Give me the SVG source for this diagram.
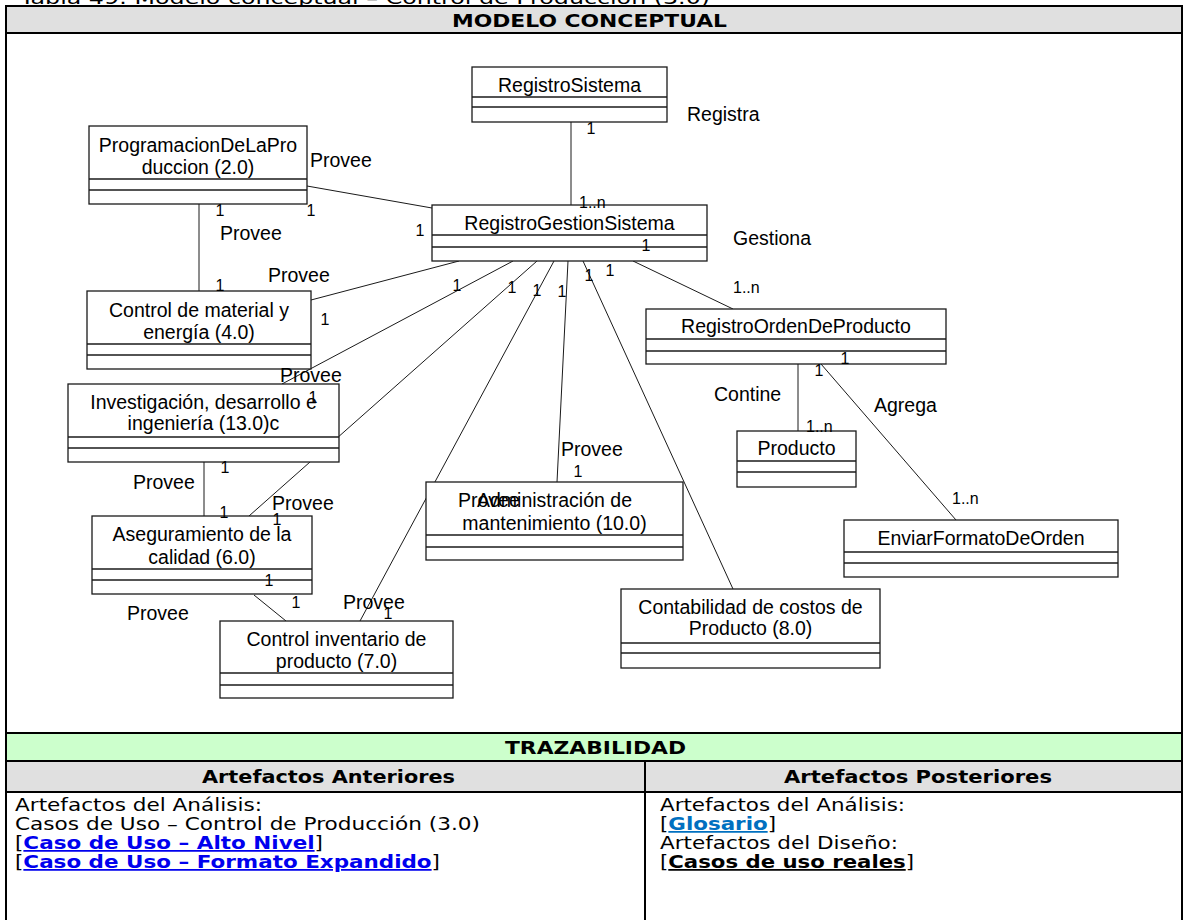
<svg xmlns="http://www.w3.org/2000/svg" width="1187" height="920" viewBox="0 0 1187 920">
  <style>
    .cls { fill: #ffffff; stroke: #1a1a1a; stroke-width: 1.3; }
    .sep { stroke: #1a1a1a; stroke-width: 1.3; }
    .name { font-family: "Liberation Sans", Arial, sans-serif; font-size: 19.5px; fill: #000; text-anchor: middle; }
    .lbl { font-family: "Liberation Sans", Arial, sans-serif; font-size: 19.5px; fill: #000; }
    .mul { font-family: "Liberation Sans", Arial, sans-serif; font-size: 16px; fill: #000; }
    .mulc { font-family: "Liberation Sans", Arial, sans-serif; font-size: 16px; fill: #000; text-anchor: middle; }
    .conn line { stroke: #1a1a1a; stroke-width: 1; }
    .grid { stroke: #000; stroke-width: 2; }
    .tt { font-family: "DejaVu Sans", Verdana, sans-serif; font-size: 17.5px; fill: #000; }
    .th { font-family: "DejaVu Sans", Verdana, sans-serif; font-size: 18.5px; font-weight: bold; fill: #000; }
    .lnk { font-weight: bold; text-decoration: underline; }
  </style>

  <rect x="0" y="0" width="1187" height="920" fill="#ffffff"/>

  <!-- caption above the table -->
  <text class="tt" x="20" y="4" font-size="20" textLength="690" lengthAdjust="spacingAndGlyphs">Tabla 49: Modelo conceptual – Control de Producción (3.0)</text>

  <!-- table bands -->
  <rect x="6" y="6" width="1176" height="27" fill="#e0e0e0"/>
  <rect x="6" y="733" width="1176" height="28" fill="#ccffcc"/>
  <rect x="6" y="761" width="1176" height="31" fill="#e0e0e0"/>

  <!-- table rules -->
  <g class="grid">
    <line x1="5" y1="6" x2="1183" y2="6"/>
    <line x1="5" y1="33" x2="1183" y2="33"/>
    <line x1="5" y1="733" x2="1183" y2="733"/>
    <line x1="5" y1="761" x2="1183" y2="761"/>
    <line x1="5" y1="792" x2="1183" y2="792"/>
    <line x1="6" y1="5" x2="6" y2="920"/>
    <line x1="1182" y1="5" x2="1182" y2="920"/>
    <line x1="645" y1="761" x2="645" y2="920"/>
  </g>

  <!-- table headings -->
  <text class="th" x="452" y="27" textLength="275" lengthAdjust="spacingAndGlyphs">MODELO CONCEPTUAL</text>
  <text class="th" x="505" y="754" textLength="181" lengthAdjust="spacingAndGlyphs">TRAZABILIDAD</text>
  <text class="th" x="202" y="783" textLength="253" lengthAdjust="spacingAndGlyphs">Artefactos Anteriores</text>
  <text class="th" x="784" y="783" textLength="268" lengthAdjust="spacingAndGlyphs">Artefactos Posteriores</text>

  <!-- traceability cells -->
  <text class="tt" x="15" y="811" textLength="247" lengthAdjust="spacingAndGlyphs">Artefactos del Análisis:</text>
  <text class="tt" x="15" y="830" textLength="465" lengthAdjust="spacingAndGlyphs">Casos de Uso – Control de Producción (3.0)</text>
  <text class="tt" x="15" y="849" textLength="308" lengthAdjust="spacingAndGlyphs">[<tspan class="lnk" fill="#0000ee">Caso de Uso – Alto Nivel</tspan>]</text>
  <text class="tt" x="15" y="868" textLength="425" lengthAdjust="spacingAndGlyphs">[<tspan class="lnk" fill="#0000ee">Caso de Uso – Formato Expandido</tspan>]</text>

  <text class="tt" x="660" y="811" textLength="245" lengthAdjust="spacingAndGlyphs">Artefactos del Análisis:</text>
  <text class="tt" x="660" y="830" textLength="116" lengthAdjust="spacingAndGlyphs">[<tspan class="lnk" fill="#0070c0">Glosario</tspan>]</text>
  <text class="tt" x="660" y="849" textLength="238" lengthAdjust="spacingAndGlyphs">Artefactos del Diseño:</text>
  <text class="tt" x="660" y="868" textLength="254" lengthAdjust="spacingAndGlyphs">[<tspan class="lnk">Casos de uso reales</tspan>]</text>

  <!-- associations -->
  <g id="connectors" class="conn">
    <line x1="571" y1="122" x2="571" y2="205"/>
    <line x1="307" y1="186" x2="432" y2="208"/>
    <line x1="199" y1="204" x2="199" y2="291"/>
    <line x1="459" y1="261" x2="311" y2="300"/>
    <line x1="513" y1="261" x2="282" y2="384"/>
    <line x1="537" y1="261" x2="249" y2="516"/>
    <line x1="554" y1="261" x2="360" y2="621"/>
    <line x1="568" y1="261" x2="557" y2="482"/>
    <line x1="583" y1="261" x2="733" y2="589"/>
    <line x1="633" y1="261" x2="733" y2="309"/>
    <line x1="204" y1="462" x2="204" y2="516"/>
    <line x1="254" y1="595" x2="286" y2="621"/>
    <line x1="798" y1="364" x2="798" y2="431"/>
    <line x1="821" y1="364" x2="956" y2="520"/>
  </g>

  <!-- classes -->
  <g id="registro-sistema">
    <rect class="cls" x="472" y="67" width="195" height="55"/>
    <line class="sep" x1="472" y1="97" x2="667" y2="97"/>
    <line class="sep" x1="472" y1="107" x2="667" y2="107"/>
    <text class="name" x="569.5" y="92">RegistroSistema</text>
  </g>

  <g id="programacion-produccion">
    <rect class="cls" x="89" y="126" width="218" height="78"/>
    <line class="sep" x1="89" y1="179" x2="307" y2="179"/>
    <line class="sep" x1="89" y1="190" x2="307" y2="190"/>
    <text class="name" x="198" y="152">ProgramacionDeLaPro</text>
    <text class="name" x="198" y="174">duccion (2.0)</text>
  </g>

  <g id="registro-gestion-sistema">
    <rect class="cls" x="432" y="205" width="275" height="56"/>
    <line class="sep" x1="432" y1="235" x2="707" y2="235"/>
    <line class="sep" x1="432" y1="247" x2="707" y2="247"/>
    <text class="name" x="569.5" y="230">RegistroGestionSistema</text>
  </g>

  <g id="control-material">
    <rect class="cls" x="87" y="291" width="224" height="78"/>
    <line class="sep" x1="87" y1="344" x2="311" y2="344"/>
    <line class="sep" x1="87" y1="355" x2="311" y2="355"/>
    <text class="name" x="199" y="317">Control de material y</text>
    <text class="name" x="199" y="339">energía (4.0)</text>
  </g>

  <g id="investigacion">
    <rect class="cls" x="68" y="384" width="271" height="78"/>
    <line class="sep" x1="68" y1="437" x2="339" y2="437"/>
    <line class="sep" x1="68" y1="448" x2="339" y2="448"/>
    <text class="name" x="203.5" y="409">Investigación, desarrollo e</text>
    <text class="name" x="203.5" y="430">ingeniería (13.0)c</text>
  </g>

  <g id="aseguramiento-calidad">
    <rect class="cls" x="92" y="516" width="220" height="78"/>
    <line class="sep" x1="92" y1="569" x2="312" y2="569"/>
    <line class="sep" x1="92" y1="580" x2="312" y2="580"/>
    <text class="name" x="202" y="541">Aseguramiento de la</text>
    <text class="name" x="202" y="564">calidad (6.0)</text>
  </g>

  <g id="control-inventario">
    <rect class="cls" x="220" y="621" width="233" height="77"/>
    <line class="sep" x1="220" y1="673" x2="453" y2="673"/>
    <line class="sep" x1="220" y1="685" x2="453" y2="685"/>
    <text class="name" x="336.5" y="646">Control inventario de</text>
    <text class="name" x="336.5" y="668">producto (7.0)</text>
  </g>

  <g id="administracion-mantenimiento">
    <rect class="cls" x="426" y="482" width="257" height="78"/>
    <line class="sep" x1="426" y1="535" x2="683" y2="535"/>
    <line class="sep" x1="426" y1="547" x2="683" y2="547"/>
    <text class="name" x="554.5" y="507">Administración de</text>
    <text class="name" x="554.5" y="530">mantenimiento (10.0)</text>
  </g>

  <g id="registro-orden-producto">
    <rect class="cls" x="646" y="309" width="300" height="55"/>
    <line class="sep" x1="646" y1="339" x2="946" y2="339"/>
    <line class="sep" x1="646" y1="351" x2="946" y2="351"/>
    <text class="name" x="796" y="333">RegistroOrdenDeProducto</text>
  </g>

  <g id="producto">
    <rect class="cls" x="737" y="431" width="119" height="56"/>
    <line class="sep" x1="737" y1="461" x2="856" y2="461"/>
    <line class="sep" x1="737" y1="472" x2="856" y2="472"/>
    <text class="name" x="796.5" y="455">Producto</text>
  </g>

  <g id="enviar-formato-orden">
    <rect class="cls" x="844" y="520" width="274" height="57"/>
    <line class="sep" x1="844" y1="552" x2="1118" y2="552"/>
    <line class="sep" x1="844" y1="563" x2="1118" y2="563"/>
    <text class="name" x="981" y="545">EnviarFormatoDeOrden</text>
  </g>

  <g id="contabilidad-costos">
    <rect class="cls" x="621" y="589" width="259" height="79"/>
    <line class="sep" x1="621" y1="643" x2="880" y2="643"/>
    <line class="sep" x1="621" y1="653" x2="880" y2="653"/>
    <text class="name" x="750.5" y="614">Contabilidad de costos de</text>
    <text class="name" x="750.5" y="635">Producto (8.0)</text>
  </g>

  <!-- association names -->
  <g id="association-labels">
    <text class="lbl" x="687" y="121">Registra</text>
    <text class="lbl" x="733" y="245">Gestiona</text>
    <text class="lbl" x="310" y="167">Provee</text>
    <text class="lbl" x="220" y="240">Provee</text>
    <text class="lbl" x="268" y="282">Provee</text>
    <text class="lbl" x="280" y="382">Provee</text>
    <text class="lbl" x="133" y="489">Provee</text>
    <text class="lbl" x="272" y="510">Provee</text>
    <text class="lbl" x="127" y="620">Provee</text>
    <text class="lbl" x="343" y="609">Provee</text>
    <text class="lbl" x="458" y="507">Provee</text>
    <text class="lbl" x="561" y="456">Provee</text>
    <text class="lbl" x="714" y="401">Contine</text>
    <text class="lbl" x="874" y="412">Agrega</text>
  </g>

  <!-- multiplicities -->
  <g id="multiplicities">
    <text class="mulc" x="591" y="134">1</text>
    <text class="mul" x="579" y="208">1..n</text>
    <text class="mulc" x="220" y="216">1</text>
    <text class="mulc" x="311" y="216">1</text>
    <text class="mulc" x="420" y="236">1</text>
    <text class="mulc" x="646" y="251">1</text>
    <text class="mulc" x="457" y="291">1</text>
    <text class="mulc" x="512" y="293">1</text>
    <text class="mulc" x="537" y="296">1</text>
    <text class="mulc" x="562" y="297">1</text>
    <text class="mulc" x="589" y="281">1</text>
    <text class="mulc" x="610" y="276">1</text>
    <text class="mul" x="733" y="293">1..n</text>
    <text class="mulc" x="220" y="291">1</text>
    <text class="mulc" x="325" y="325">1</text>
    <text class="mulc" x="313" y="403">1</text>
    <text class="mulc" x="225" y="473">1</text>
    <text class="mulc" x="224" y="518">1</text>
    <text class="mulc" x="277" y="525">1</text>
    <text class="mulc" x="269" y="586">1</text>
    <text class="mulc" x="296" y="608">1</text>
    <text class="mulc" x="388" y="619">1</text>
    <text class="mulc" x="578" y="477">1</text>
    <text class="mulc" x="845" y="364">1</text>
    <text class="mulc" x="819" y="376">1</text>
    <text class="mul" x="806" y="432">1..n</text>
    <text class="mul" x="952" y="504">1..n</text>
  </g>
</svg>
